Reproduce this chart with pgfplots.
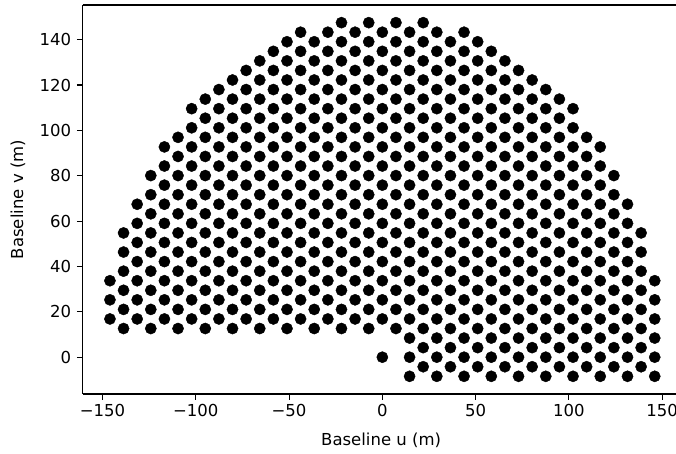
\documentclass[border=0pt]{standalone}
\usepackage{pgfplots}
\pgfplotsset{compat=1.18}
\usepackage{fontspec}
\setmainfont{DejaVu Sans}
\begin{document}
\begin{tikzpicture}
\path[use as bounding box] (0pt,0pt) rectangle (676pt,454pt);
\begin{axis}[
  at={(82.7pt,60pt)}, anchor=south west,
  scale only axis, width=593.3pt, height=389pt,
  xmin=-160.6, xmax=157.4, ymin=-16.23, ymax=155.3,
  axis x line*=bottom, axis y line*=left,
  axis line style={line width=1.1pt, black, -},
  xtick={-150,-100,-50,0,50,100,150},
  xticklabels={−150,−100,−50,0,50,100,150},
  ytick={0,20,40,60,80,100,120,140},
  yticklabels={0,20,40,60,80,100,120,140},
  tick align=outside, major tick length=5.8pt,
  every tick/.style={line width=1.1pt, black},
  tick label style={font=\fontsize{16.5}{19.8}\selectfont, black},
  yticklabel style={anchor=east, inner sep=0pt, xshift=-5.5pt},
  xticklabel style={anchor=north, inner sep=0pt, yshift=-4.5pt},
  label style={font=\fontsize{16.5}{19.8}\selectfont, black},
  xlabel={Baseline u (m)}, ylabel={Baseline v (m)},
  xlabel style={at={(axis description cs:0.503,-0.118)}, anchor=center},
  ylabel style={at={(axis description cs:-0.109,0.5)}, anchor=center},
  clip=false,
]
\draw[line width=1.1pt, black] (rel axis cs:0,1) -- (rel axis cs:1,1);
\addplot[only marks, mark=*, mark size=5.6pt, black] coordinates {
(14.6,-8.43) (29.2,-8.43) (43.8,-8.43) (58.4,-8.43) (73,-8.43) (87.6,-8.43) (102.2,-8.43) (116.8,-8.43) (131.4,-8.43) (146,-8.43)
(21.9,-4.21) (36.5,-4.21) (51.1,-4.21) (65.7,-4.21) (80.3,-4.21) (94.9,-4.21) (109.5,-4.21) (124.1,-4.21) (138.7,-4.21)
(0,0) (14.6,0) (29.2,0) (43.8,0) (58.4,0) (73,0) (87.6,0) (102.2,0) (116.8,0) (131.4,0) (146,0)
(21.9,4.21) (36.5,4.21) (51.1,4.21) (65.7,4.21) (80.3,4.21) (94.9,4.21) (109.5,4.21) (124.1,4.21) (138.7,4.21)
(14.6,8.43) (29.2,8.43) (43.8,8.43) (58.4,8.43) (73,8.43) (87.6,8.43) (102.2,8.43) (116.8,8.43) (131.4,8.43) (146,8.43)
(-138.7,12.64) (-124.1,12.64) (-109.5,12.64) (-94.9,12.64) (-80.3,12.64) (-65.7,12.64) (-51.1,12.64) (-36.5,12.64) (-21.9,12.64) (-7.3,12.64) (7.3,12.64) (21.9,12.64) (36.5,12.64) (51.1,12.64) (65.7,12.64) (80.3,12.64) (94.9,12.64) (109.5,12.64) (124.1,12.64) (138.7,12.64)
(-146,16.86) (-131.4,16.86) (-116.8,16.86) (-102.2,16.86) (-87.6,16.86) (-73,16.86) (-58.4,16.86) (-43.8,16.86) (-29.2,16.86) (-14.6,16.86) (0,16.86) (14.6,16.86) (29.2,16.86) (43.8,16.86) (58.4,16.86) (73,16.86) (87.6,16.86) (102.2,16.86) (116.8,16.86) (131.4,16.86) (146,16.86)
(-138.7,21.07) (-124.1,21.07) (-109.5,21.07) (-94.9,21.07) (-80.3,21.07) (-65.7,21.07) (-51.1,21.07) (-36.5,21.07) (-21.9,21.07) (-7.3,21.07) (7.3,21.07) (21.9,21.07) (36.5,21.07) (51.1,21.07) (65.7,21.07) (80.3,21.07) (94.9,21.07) (109.5,21.07) (124.1,21.07) (138.7,21.07)
(-146,25.29) (-131.4,25.29) (-116.8,25.29) (-102.2,25.29) (-87.6,25.29) (-73,25.29) (-58.4,25.29) (-43.8,25.29) (-29.2,25.29) (-14.6,25.29) (0,25.29) (14.6,25.29) (29.2,25.29) (43.8,25.29) (58.4,25.29) (73,25.29) (87.6,25.29) (102.2,25.29) (116.8,25.29) (131.4,25.29) (146,25.29)
(-138.7,29.50) (-124.1,29.50) (-109.5,29.50) (-94.9,29.50) (-80.3,29.50) (-65.7,29.50) (-51.1,29.50) (-36.5,29.50) (-21.9,29.50) (-7.3,29.50) (7.3,29.50) (21.9,29.50) (36.5,29.50) (51.1,29.50) (65.7,29.50) (80.3,29.50) (94.9,29.50) (109.5,29.50) (124.1,29.50) (138.7,29.50)
(-146,33.72) (-131.4,33.72) (-116.8,33.72) (-102.2,33.72) (-87.6,33.72) (-73,33.72) (-58.4,33.72) (-43.8,33.72) (-29.2,33.72) (-14.6,33.72) (0,33.72) (14.6,33.72) (29.2,33.72) (43.8,33.72) (58.4,33.72) (73,33.72) (87.6,33.72) (102.2,33.72) (116.8,33.72) (131.4,33.72) (146,33.72)
(-138.7,37.93) (-124.1,37.93) (-109.5,37.93) (-94.9,37.93) (-80.3,37.93) (-65.7,37.93) (-51.1,37.93) (-36.5,37.93) (-21.9,37.93) (-7.3,37.93) (7.3,37.93) (21.9,37.93) (36.5,37.93) (51.1,37.93) (65.7,37.93) (80.3,37.93) (94.9,37.93) (109.5,37.93) (124.1,37.93) (138.7,37.93)
(-131.4,42.15) (-116.8,42.15) (-102.2,42.15) (-87.6,42.15) (-73,42.15) (-58.4,42.15) (-43.8,42.15) (-29.2,42.15) (-14.6,42.15) (0,42.15) (14.6,42.15) (29.2,42.15) (43.8,42.15) (58.4,42.15) (73,42.15) (87.6,42.15) (102.2,42.15) (116.8,42.15) (131.4,42.15)
(-138.7,46.36) (-124.1,46.36) (-109.5,46.36) (-94.9,46.36) (-80.3,46.36) (-65.7,46.36) (-51.1,46.36) (-36.5,46.36) (-21.9,46.36) (-7.3,46.36) (7.3,46.36) (21.9,46.36) (36.5,46.36) (51.1,46.36) (65.7,46.36) (80.3,46.36) (94.9,46.36) (109.5,46.36) (124.1,46.36) (138.7,46.36)
(-131.4,50.58) (-116.8,50.58) (-102.2,50.58) (-87.6,50.58) (-73,50.58) (-58.4,50.58) (-43.8,50.58) (-29.2,50.58) (-14.6,50.58) (0,50.58) (14.6,50.58) (29.2,50.58) (43.8,50.58) (58.4,50.58) (73,50.58) (87.6,50.58) (102.2,50.58) (116.8,50.58) (131.4,50.58)
(-138.7,54.79) (-124.1,54.79) (-109.5,54.79) (-94.9,54.79) (-80.3,54.79) (-65.7,54.79) (-51.1,54.79) (-36.5,54.79) (-21.9,54.79) (-7.3,54.79) (7.3,54.79) (21.9,54.79) (36.5,54.79) (51.1,54.79) (65.7,54.79) (80.3,54.79) (94.9,54.79) (109.5,54.79) (124.1,54.79) (138.7,54.79)
(-131.4,59.01) (-116.8,59.01) (-102.2,59.01) (-87.6,59.01) (-73,59.01) (-58.4,59.01) (-43.8,59.01) (-29.2,59.01) (-14.6,59.01) (0,59.01) (14.6,59.01) (29.2,59.01) (43.8,59.01) (58.4,59.01) (73,59.01) (87.6,59.01) (102.2,59.01) (116.8,59.01) (131.4,59.01)
(-124.1,63.22) (-109.5,63.22) (-94.9,63.22) (-80.3,63.22) (-65.7,63.22) (-51.1,63.22) (-36.5,63.22) (-21.9,63.22) (-7.3,63.22) (7.3,63.22) (21.9,63.22) (36.5,63.22) (51.1,63.22) (65.7,63.22) (80.3,63.22) (94.9,63.22) (109.5,63.22) (124.1,63.22)
(-131.4,67.44) (-116.8,67.44) (-102.2,67.44) (-87.6,67.44) (-73,67.44) (-58.4,67.44) (-43.8,67.44) (-29.2,67.44) (-14.6,67.44) (0,67.44) (14.6,67.44) (29.2,67.44) (43.8,67.44) (58.4,67.44) (73,67.44) (87.6,67.44) (102.2,67.44) (116.8,67.44) (131.4,67.44)
(-124.1,71.65) (-109.5,71.65) (-94.9,71.65) (-80.3,71.65) (-65.7,71.65) (-51.1,71.65) (-36.5,71.65) (-21.9,71.65) (-7.3,71.65) (7.3,71.65) (21.9,71.65) (36.5,71.65) (51.1,71.65) (65.7,71.65) (80.3,71.65) (94.9,71.65) (109.5,71.65) (124.1,71.65)
(-116.8,75.86) (-102.2,75.86) (-87.6,75.86) (-73,75.86) (-58.4,75.86) (-43.8,75.86) (-29.2,75.86) (-14.6,75.86) (0,75.86) (14.6,75.86) (29.2,75.86) (43.8,75.86) (58.4,75.86) (73,75.86) (87.6,75.86) (102.2,75.86) (116.8,75.86)
(-124.1,80.08) (-109.5,80.08) (-94.9,80.08) (-80.3,80.08) (-65.7,80.08) (-51.1,80.08) (-36.5,80.08) (-21.9,80.08) (-7.3,80.08) (7.3,80.08) (21.9,80.08) (36.5,80.08) (51.1,80.08) (65.7,80.08) (80.3,80.08) (94.9,80.08) (109.5,80.08) (124.1,80.08)
(-116.8,84.29) (-102.2,84.29) (-87.6,84.29) (-73,84.29) (-58.4,84.29) (-43.8,84.29) (-29.2,84.29) (-14.6,84.29) (0,84.29) (14.6,84.29) (29.2,84.29) (43.8,84.29) (58.4,84.29) (73,84.29) (87.6,84.29) (102.2,84.29) (116.8,84.29)
(-109.5,88.51) (-94.9,88.51) (-80.3,88.51) (-65.7,88.51) (-51.1,88.51) (-36.5,88.51) (-21.9,88.51) (-7.3,88.51) (7.3,88.51) (21.9,88.51) (36.5,88.51) (51.1,88.51) (65.7,88.51) (80.3,88.51) (94.9,88.51) (109.5,88.51)
(-116.8,92.72) (-102.2,92.72) (-87.6,92.72) (-73,92.72) (-58.4,92.72) (-43.8,92.72) (-29.2,92.72) (-14.6,92.72) (0,92.72) (14.6,92.72) (29.2,92.72) (43.8,92.72) (58.4,92.72) (73,92.72) (87.6,92.72) (102.2,92.72) (116.8,92.72)
(-109.5,96.94) (-94.9,96.94) (-80.3,96.94) (-65.7,96.94) (-51.1,96.94) (-36.5,96.94) (-21.9,96.94) (-7.3,96.94) (7.3,96.94) (21.9,96.94) (36.5,96.94) (51.1,96.94) (65.7,96.94) (80.3,96.94) (94.9,96.94) (109.5,96.94)
(-102.2,101.15) (-87.6,101.15) (-73,101.15) (-58.4,101.15) (-43.8,101.15) (-29.2,101.15) (-14.6,101.15) (0,101.15) (14.6,101.15) (29.2,101.15) (43.8,101.15) (58.4,101.15) (73,101.15) (87.6,101.15) (102.2,101.15)
(-94.9,105.37) (-80.3,105.37) (-65.7,105.37) (-51.1,105.37) (-36.5,105.37) (-21.9,105.37) (-7.3,105.37) (7.3,105.37) (21.9,105.37) (36.5,105.37) (51.1,105.37) (65.7,105.37) (80.3,105.37) (94.9,105.37)
(-102.2,109.58) (-87.6,109.58) (-73,109.58) (-58.4,109.58) (-43.8,109.58) (-29.2,109.58) (-14.6,109.58) (0,109.58) (14.6,109.58) (29.2,109.58) (43.8,109.58) (58.4,109.58) (73,109.58) (87.6,109.58) (102.2,109.58)
(-94.9,113.80) (-80.3,113.80) (-65.7,113.80) (-51.1,113.80) (-36.5,113.80) (-21.9,113.80) (-7.3,113.80) (7.3,113.80) (21.9,113.80) (36.5,113.80) (51.1,113.80) (65.7,113.80) (80.3,113.80) (94.9,113.80)
(-87.6,118.01) (-73,118.01) (-58.4,118.01) (-43.8,118.01) (-29.2,118.01) (-14.6,118.01) (0,118.01) (14.6,118.01) (29.2,118.01) (43.8,118.01) (58.4,118.01) (73,118.01) (87.6,118.01)
(-80.3,122.23) (-65.7,122.23) (-51.1,122.23) (-36.5,122.23) (-21.9,122.23) (-7.3,122.23) (7.3,122.23) (21.9,122.23) (36.5,122.23) (51.1,122.23) (65.7,122.23) (80.3,122.23)
(-73,126.44) (-58.4,126.44) (-43.8,126.44) (-29.2,126.44) (-14.6,126.44) (0,126.44) (14.6,126.44) (29.2,126.44) (43.8,126.44) (58.4,126.44) (73,126.44)
(-65.7,130.66) (-51.1,130.66) (-36.5,130.66) (-21.9,130.66) (-7.3,130.66) (7.3,130.66) (21.9,130.66) (36.5,130.66) (51.1,130.66) (65.7,130.66)
(-58.4,134.87) (-43.8,134.87) (-29.2,134.87) (-14.6,134.87) (0,134.87) (14.6,134.87) (29.2,134.87) (43.8,134.87) (58.4,134.87)
(-51.1,139.09) (-36.5,139.09) (-21.9,139.09) (-7.3,139.09) (7.3,139.09) (21.9,139.09) (36.5,139.09) (51.1,139.09)
(-43.8,143.30) (-29.2,143.30) (-14.6,143.30) (0,143.30) (14.6,143.30) (29.2,143.30) (43.8,143.30)
(-21.9,147.51) (-7.3,147.51) (7.3,147.51) (21.9,147.51)
};
\end{axis}
\end{tikzpicture}
\end{document}
